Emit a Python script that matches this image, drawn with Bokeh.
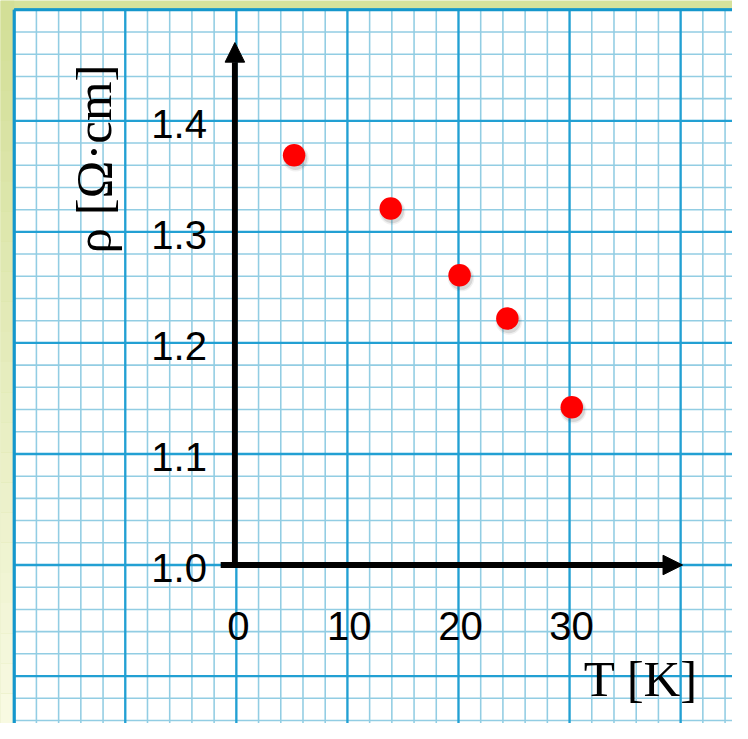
import numpy as np
from bokeh.plotting import figure
from bokeh.models import Range1d, Arrow, NormalHead
from bokeh.core.properties import value
from bokeh.embed import file_html
from bokeh.resources import INLINE

# ---- data ----
T_values = [5.2, 13.9, 20.1, 24.4, 30.2]
rho_values = [1.369, 1.321, 1.261, 1.222, 1.142]
x_ticks = [0, 10, 20, 30]
x_tick_labels = ["0", "10", "20", "30"]
y_ticks = [1.0, 1.1, 1.2, 1.3, 1.4]
y_tick_labels = ["1.0", "1.1", "1.2", "1.3", "1.4"]
x_title = "T [K]"
y_title = "ρ [Ω·cm]"

# ---- layout scale ----
REF_W, REF_H = 748, 739
W, H = 732, 723
S = W / REF_W              # pixel scale applied to sizes
PXX = 11.35                # reference px per K
PXY = 1135.0               # reference px per Ω·cm
X0_PX, Y0_PX = 241.0, 577.0


def dx(px):
    return (px - X0_PX) / PXX


def dy(py):
    return 1.0 + (Y0_PX - py) / PXY


def sz(v):
    return v * S


x_lo, x_hi = dx(0), dx(REF_W)
y_lo, y_hi = dy(REF_H), dy(0)

p = figure(width=W, height=H, x_range=Range1d(x_lo, x_hi), y_range=Range1d(y_lo, y_hi),
           x_axis_type=None, y_axis_type=None, min_border=0, toolbar_location=None,
           output_backend="svg", outline_line_color=None,
           background_fill_color="#d6e29c", border_fill_color="#d6e29c")
p.grid.visible = False

# left border gradient (pale toward the bottom)
n = 24
edges = np.linspace(y_hi, y_lo, n + 1)
c0 = np.array([0xd3, 0xdf, 0x97])
c1 = np.array([0xf8, 0xfa, 0xe2])
cols = ["#%02x%02x%02x" % tuple(int(v) for v in c0 + (c1 - c0) * (i / (n - 1))) for i in range(n)]
p.quad(left=x_lo - 1, right=-20, top=edges[:-1], bottom=edges[1:], fill_color=cols, line_color=None)

# paper
paper_left, paper_top = -20.0, 1.5
p.quad(left=[paper_left], right=[x_hi + 1], top=[paper_top], bottom=[y_lo - 0.1],
       fill_color="white", line_color=None)

# grid lines
minor_x = [v for v in np.arange(paper_left, x_hi + 0.01, 2.0) if abs(v / 10 - round(v / 10)) > 1e-6]
major_x = list(np.arange(paper_left, x_hi + 0.01, 10.0))
minor_y = [v for v in np.arange(paper_top, y_lo - 0.01, -0.02) if abs(v * 10 - round(v * 10)) > 1e-6]
major_y = list(np.arange(paper_top, y_lo - 0.01, -0.1))

minor_col, major_col = "#92cde3", "#22a0d3"
p.segment(x0=minor_x, x1=minor_x, y0=y_lo - 0.1, y1=paper_top, line_color=minor_col, line_width=sz(1.6))
p.segment(x0=paper_left, x1=x_hi + 1, y0=minor_y, y1=minor_y, line_color=minor_col, line_width=sz(1.6))
p.segment(x0=major_x, x1=major_x, y0=y_lo - 0.1, y1=paper_top, line_color=major_col, line_width=sz(2.4))
p.segment(x0=paper_left, x1=x_hi + 1, y0=major_y, y1=major_y, line_color=major_col, line_width=sz(2.4))
# paper edges (thicker)
p.segment(x0=[paper_left, paper_left], x1=[paper_left, x_hi + 1], y0=[y_lo - 0.1, paper_top],
          y1=[paper_top, paper_top], line_color="#1597cc", line_width=sz(3.2))

# axes arrows
ax_x = dx(239.5)
p.add_layout(Arrow(end=NormalHead(size=sz(20), fill_color="black", line_color="black"),
                   x_start=ax_x, y_start=1.0 - 3 / PXY, x_end=ax_x, y_end=dy(43),
                   line_color="black", line_width=sz(6)))
p.add_layout(Arrow(end=NormalHead(size=sz(20), fill_color="black", line_color="black"),
                   x_start=dx(225), y_start=1.0, x_end=dx(697), y_end=1.0,
                   line_color="black", line_width=sz(6)))

# tick labels
tick_font = value("Liberation Sans")
p.text(x=[0] * len(y_ticks), y=y_ticks, text=y_tick_labels, x_offset=sz(-30), y_offset=sz(3),
       text_align="right", text_baseline="middle", text_font=tick_font,
       text_font_size=f"{sz(41):.1f}px", text_color="black")
p.text(x=x_ticks, y=[1.0] * len(x_ticks), text=x_tick_labels, x_offset=sz(2), y_offset=sz(62),
       text_align="center", text_baseline="middle", text_font=tick_font,
       text_font_size=f"{sz(41):.1f}px", text_color="black")

# axis titles
title_font = value("Liberation Serif")
p.text(x=[dx(596)], y=[dy(694)], text=[x_title], text_align="left", text_baseline="middle",
       text_font=title_font, text_font_size=f"{sz(52):.1f}px", text_color="black")
p.text(x=[dx(96)], y=[dy(162)], text=[y_title], angle=np.pi / 2, text_align="center",
       text_baseline="middle", text_font=title_font, text_font_size=f"{sz(52):.1f}px",
       text_color="black")

# data points with soft shadow
sx = [t + 1.5 / PXX for t in T_values]
sy = [r - 3.0 / PXY for r in rho_values]
p.scatter(sx, sy, size=sz(27), fill_color="#444444", fill_alpha=0.08, line_color=None)
p.scatter(sx, sy, size=sz(24), fill_color="#444444", fill_alpha=0.15, line_color=None)
p.scatter(T_values, rho_values, size=sz(23), fill_color="#ff0000", line_color=None)

open("out.html", "w").write(file_html(p, INLINE))
